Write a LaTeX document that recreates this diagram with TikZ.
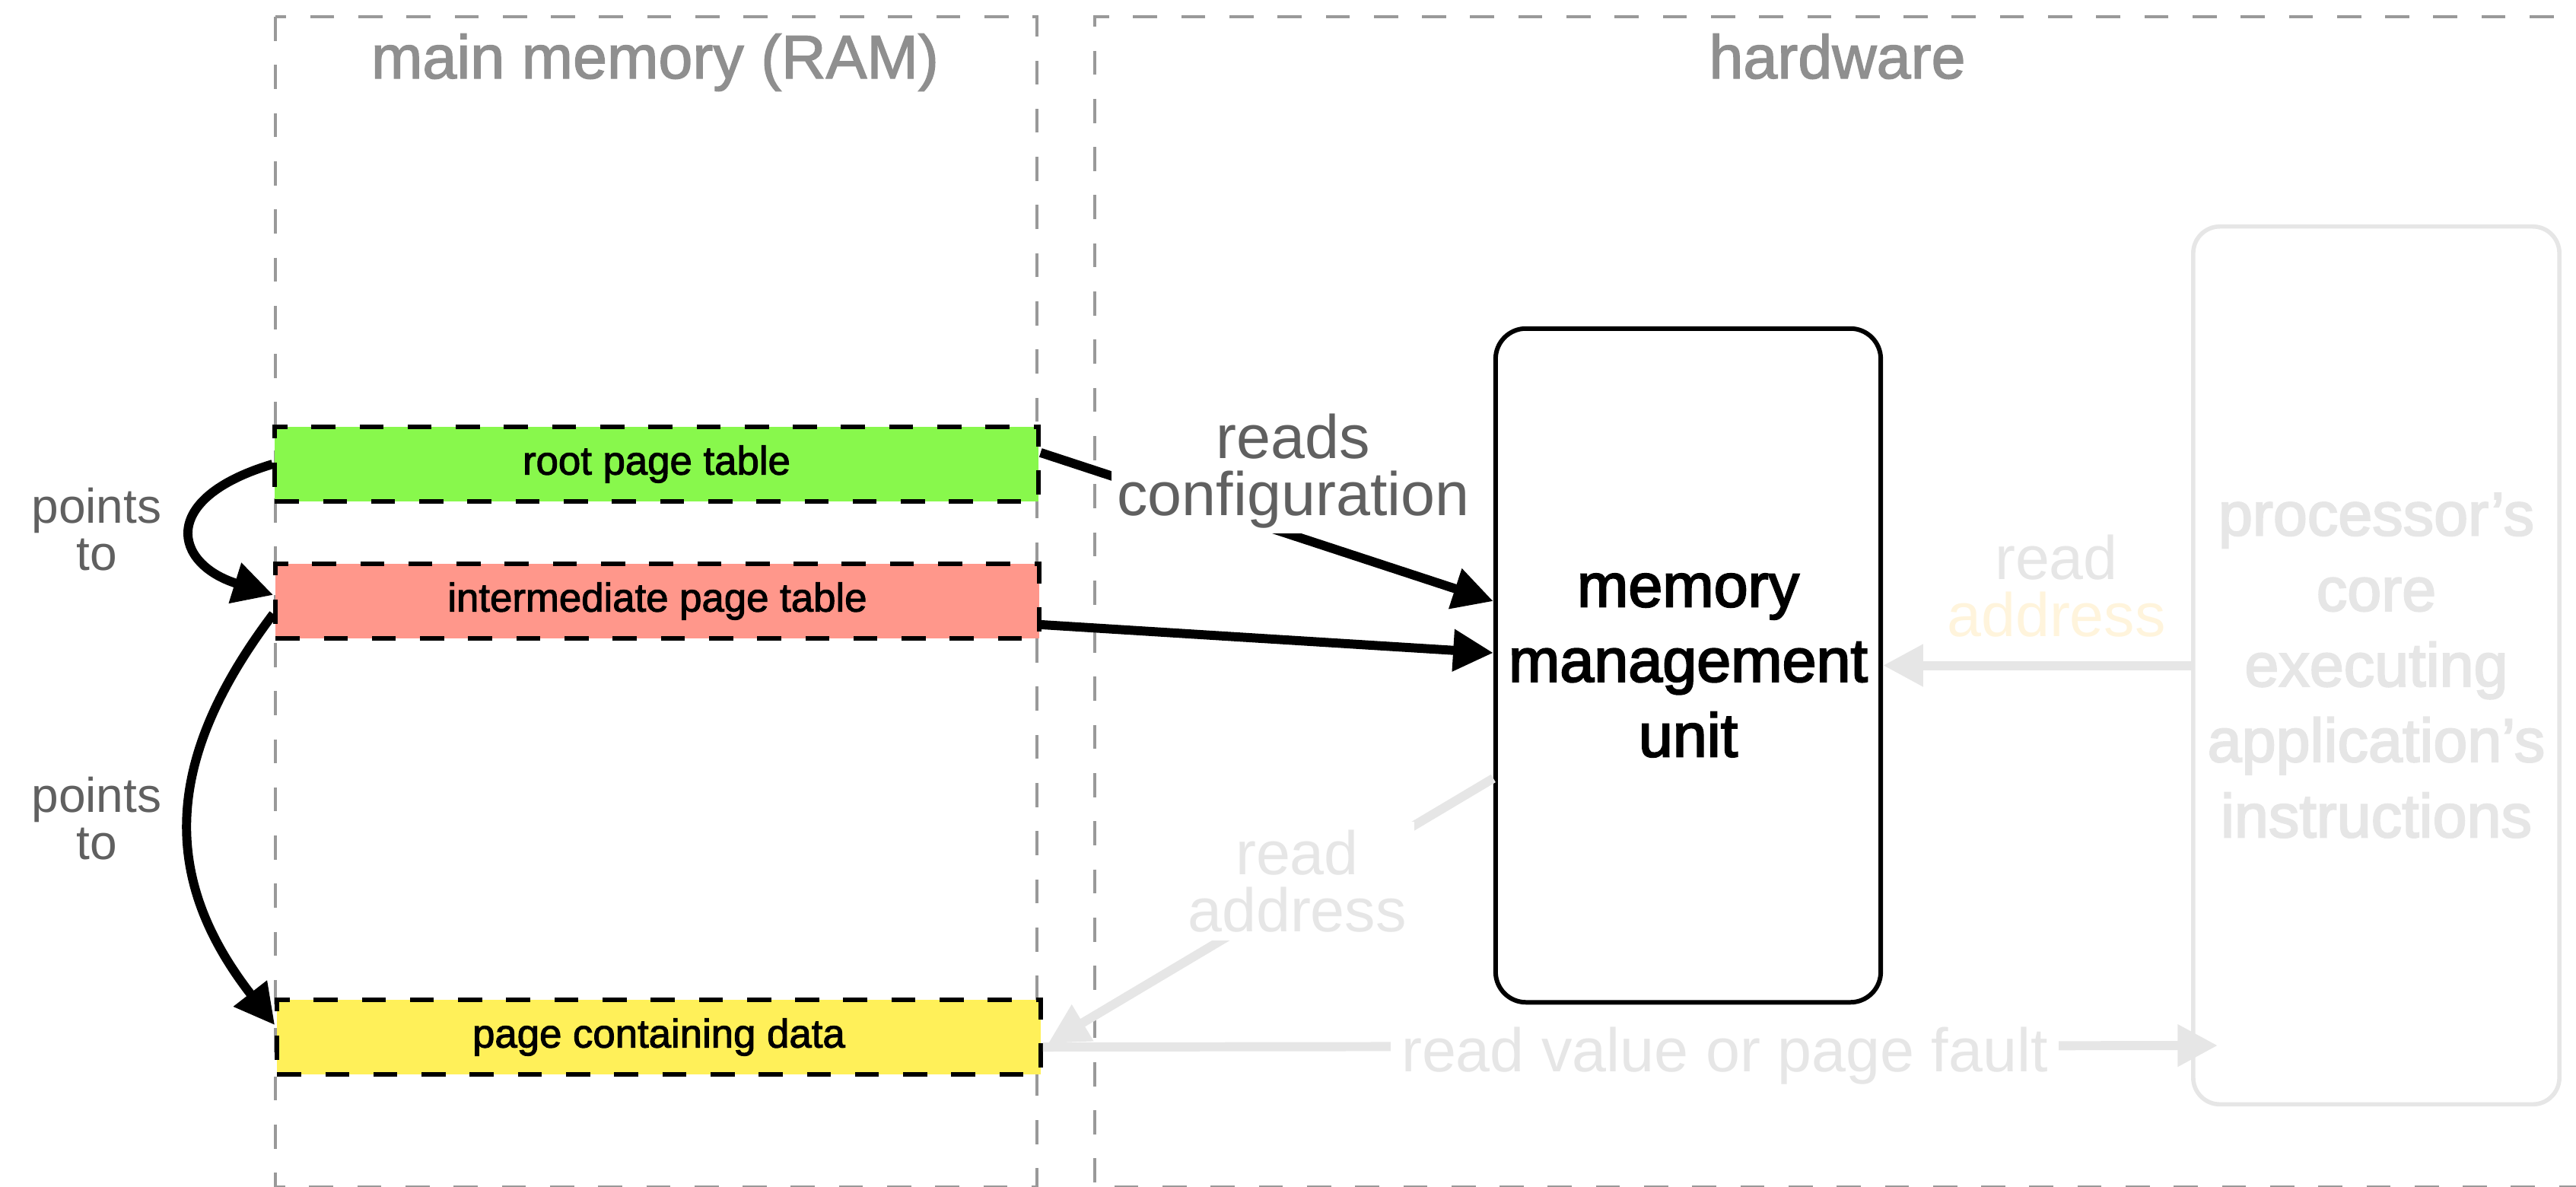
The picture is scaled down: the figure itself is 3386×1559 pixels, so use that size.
\documentclass[tikz,border=0pt]{standalone}
\usepackage{fontspec}
\setmainfont{Liberation Sans}
\usetikzlibrary{arrows.meta,calc}

% heavier strokes for the medium-weight labels (fill + outline of the glyphs)
\newcommand{\weighted}[1]{\special{pdf:literal direct 2 Tr #1 w}}

\definecolor{framegray}{HTML}{999999}
\definecolor{titlegray}{HTML}{8F8F8F}
\definecolor{notegray}{HTML}{606060}
\definecolor{faint}{HTML}{E6E6E6}
\definecolor{faintgold}{HTML}{FFF4DC}
\definecolor{rootgreen}{HTML}{88F84C}
\definecolor{midsalmon}{HTML}{FF978B}
\definecolor{datayellow}{HTML}{FFF059}

\tikzset{
  panelframe/.style={draw=framegray, line width=1.1pt, dash pattern=on 9pt off 9pt},
  paneltitle/.style={text=titlegray, anchor=base, inner sep=0pt, font=\fontsize{23}{28}\selectfont\weighted{0.4}},
  pagebox/.style={draw=black, line width=1.7pt, dash pattern=on 9pt off 9pt,
    minimum width=10.03cm, minimum height=0.98cm, inner sep=0pt,
    font=\fontsize{15}{18}\selectfont\weighted{0.3}},
  unitbox/.style={draw=black, line width=1.7pt, rounded corners=0.4cm,
    minimum width=5.06cm, minimum height=8.85cm, align=center, inner sep=0pt,
    font=\fontsize{23}{28}\selectfont\weighted{0.6}},
  corebox/.style={draw=faint, line width=1.6pt, rounded corners=0.35cm,
    minimum width=4.81cm, minimum height=11.53cm, align=center, inner sep=0pt,
    text=faint, font=\fontsize{23}{28.2}\selectfont\weighted{0.6}},
  notelabel/.style={text=notegray, align=center, inner sep=0pt, font=\fontsize{23}{21.3}\selectfont},
  smallnote/.style={text=notegray, align=center, inner sep=0pt, font=\fontsize{18.2}{17.6}\selectfont},
  faintnote/.style={text=faint, align=center, inner sep=0pt, font=\fontsize{23}{21.3}\selectfont},
  linkarrow/.style={draw=black, line width=3.4pt, -{Triangle[length=15pt,width=15pt]}},
  fadedarrow/.style={draw=faint, line width=3.4pt, -{Triangle[length=15pt,width=15pt]}},
}

\begin{document}
\begin{tikzpicture}[x=0.01cm, y=-0.01cm]
  \useasboundingbox (0,0) rectangle (3386,1559);

  % the two dashed panels
  \draw[panelframe] (362,22) rectangle (1363,1560);
  \draw[panelframe] (3420,22) -- (1439,22) -- (1439,1560) -- (3420,1560);
  \node[paneltitle] (ramtitle) at (861,103) {main memory (RAM)};
  \node[paneltitle] (hwtitle) at (2415,103) {hardware};

  % pages held in RAM
  \node[pagebox, fill=rootgreen] (root) at (863,610) {root page table};
  \node[pagebox, fill=midsalmon] (mid) at (864,790) {intermediate page table};
  \node[pagebox, fill=datayellow] (data) at (866,1363) {page containing data};

  % hardware units
  \node[unitbox] (mmu) at (2219,874.5) {memory\\management\\unit};
  \node[corebox] (core) at (3123.5,874.5) {processor’s\\core\\executing\\application’s\\instructions};

  % page-table walk
  \draw[linkarrow] (root.west) .. controls (208,655) and (228,741) .. ([yshift=2.3pt]mid.west);
  \draw[linkarrow] ([yshift=-4.8pt]mid.west) .. controls (215,998) and (210,1153) .. ([yshift=4.5pt]data.west);
  \draw[linkarrow] ([yshift=4.3pt]root.east) -- ([yshift=24pt]mmu.west);
  \draw[linkarrow] ([yshift=-8.8pt]mid.east) -- ([yshift=4.7pt]mmu.west);

  % faded memory access path
  \draw[fadedarrow] (core.west) -- (mmu.east);
  \draw[fadedarrow] ([yshift=-42.2pt]mmu.west) -- ([xshift=2pt,yshift=-2.3pt]data.east);
  \draw[fadedarrow] ([yshift=-3.7pt]data.east) -- ($(data.east -| core.west)+(35,11)$);

  % labels
  \node[notelabel, fill=white, inner sep=2pt] (cfg) at (1700,619) {reads\\configuration};
  \node[smallnote] (walk1) at (127,696) {points\\to};
  \node[smallnote] (walk2) at (127,1076) {points\\to};
  \node[faintnote] (addrin) at (2703,770) {read\\\textcolor{faintgold}{address}};
  \node[faintnote, fill=white, inner sep=3pt] (addrout) at (1705,1158) {read\\address};
  \node[faintnote, fill=white, inner xsep=4pt, inner ysep=2pt] (fault) at (2267,1388) {read value or page fault};
\end{tikzpicture}
\end{document}
